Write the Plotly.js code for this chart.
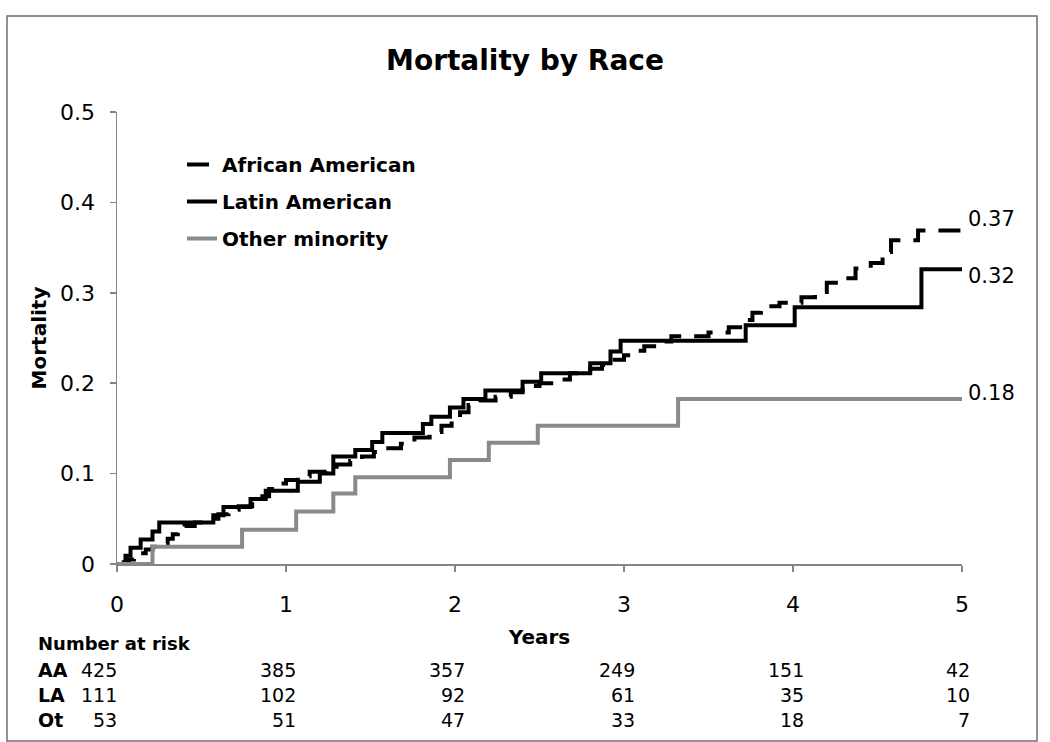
<!DOCTYPE html>
<html>
<head>
<meta charset="utf-8">
<script src="https://cdn.plot.ly/plotly-3.0.1.min.js"></script>
<style>
  html, body { margin: 0; padding: 0; background: #fff; }
  #chart { width: 1050px; height: 742px; }
</style>
</head>
<body>
<div id="chart"></div>
<script>
// ---- Data ----
const seriesNames = ["African American", "Latin American", "Other minority"];

const aaYears = [0, 0.04, 0.07, 0.10, 0.13, 0.17, 0.21, 0.26, 0.30, 0.33, 0.36, 0.40, 0.46, 0.52, 0.60, 0.66, 0.72, 0.80, 0.86, 0.90, 0.95, 1.00, 1.07, 1.14, 1.24, 1.30, 1.38, 1.45, 1.52, 1.58, 1.68, 1.76, 1.85, 1.92, 1.98, 2.03, 2.08, 2.15, 2.24, 2.33, 2.40, 2.50, 2.60, 2.68, 2.80, 2.87, 2.93, 3.00, 3.06, 3.12, 3.20, 3.28, 3.50, 3.62, 3.70, 3.76, 3.81, 3.92, 4.05, 4.13, 4.20, 4.30, 4.37, 4.46, 4.53, 4.58, 4.74, 5.00];
const aaMort  = [0, 0.002, 0.005, 0.009, 0.012, 0.016, 0.019, 0.023, 0.028, 0.033, 0.038, 0.042, 0.046, 0.050, 0.055, 0.060, 0.064, 0.069, 0.075, 0.083, 0.089, 0.093, 0.097, 0.102, 0.105, 0.110, 0.114, 0.119, 0.124, 0.128, 0.133, 0.140, 0.146, 0.153, 0.160, 0.168, 0.176, 0.181, 0.185, 0.190, 0.197, 0.200, 0.204, 0.211, 0.216, 0.220, 0.226, 0.231, 0.236, 0.241, 0.246, 0.252, 0.256, 0.262, 0.270, 0.278, 0.285, 0.289, 0.295, 0.301, 0.311, 0.316, 0.327, 0.333, 0.345, 0.358, 0.369, 0.369];

const laYears = [0, 0.05, 0.08, 0.14, 0.21, 0.25, 0.57, 0.63, 0.79, 0.88, 1.07, 1.20, 1.28, 1.41, 1.51, 1.57, 1.81, 1.86, 1.97, 2.05, 2.18, 2.40, 2.51, 2.80, 2.92, 2.98, 3.72, 4.01, 4.76, 5.00];
const laMort  = [0, 0.009, 0.018, 0.027, 0.036, 0.046, 0.054, 0.063, 0.072, 0.081, 0.091, 0.100, 0.119, 0.126, 0.135, 0.145, 0.155, 0.163, 0.173, 0.1825, 0.192, 0.2017, 0.211, 0.222, 0.235, 0.247, 0.264, 0.284, 0.326, 0.326];

const otYears = [0, 0.21, 0.74, 1.06, 1.28, 1.41, 1.97, 2.20, 2.49, 3.32, 5.00];
const otMort  = [0, 0.019, 0.038, 0.058, 0.078, 0.096, 0.115, 0.134, 0.153, 0.1825, 0.1825];

const endLabels = ["0.37", "0.32", "0.18"];
const endValues = [0.369, 0.326, 0.1825];

const riskYears = [0, 1, 2, 3, 4, 5];
const riskRowLabels = ["AA", "LA", "Ot"];
const riskAA = [425, 385, 357, 249, 151, 42];
const riskLA = [111, 102, 92, 61, 35, 10];
const riskOt = [53, 51, 47, 33, 18, 7];

const xTickVals = [0, 1, 2, 3, 4, 5];
const yTickVals = [0, 0.1, 0.2, 0.3, 0.4, 0.5];
const yTickText = ["0", "0.1", "0.2", "0.3", "0.4", "0.5"];

// ---- Styling ----
const FONT = "DejaVu Sans, Verdana, sans-serif";
const BOLD = "DejaVu Sans, Verdana, sans-serif";
const axisGray = "#858585";

const traces = [
  { x: aaYears, y: aaMort, name: seriesNames[0], legendgroup: "a",
    mode: "lines", line: { shape: "hv", color: "#000", width: 4, dash: "22px,13px" } },
  { x: laYears, y: laMort, name: seriesNames[1], legendgroup: "b",
    mode: "lines", line: { shape: "hv", color: "#000", width: 4 } },
  { x: otYears, y: otMort, name: seriesNames[2], legendgroup: "c",
    mode: "lines", line: { shape: "hv", color: "#8a8a8a", width: 4 } }
];

// plot area in pixels
const L = 117, R = 962, T = 112, B = 564, W = 1050, H = 742;
const px2paperX = p => (p - L) / (R - L);
const py2paperY = p => (B - p) / (B - T);

const annotations = [];
const endShift = [11, -7, 6];
endLabels.forEach((t, i) => {
  annotations.push({ x: 5, y: endValues[i], xref: "x", yref: "y", text: t,
    showarrow: false, xanchor: "left", yanchor: "middle", xshift: 4, yshift: endShift[i],
    font: { family: FONT, size: 21, color: "#000" } });
});

annotations.push({ x: px2paperX(36), y: py2paperY(643), xref: "paper", yref: "paper",
  text: "<b>Number at risk</b>", showarrow: false, xanchor: "left", yanchor: "middle",
  font: { family: BOLD, size: 18, color: "#000" } });

const riskRows = [riskAA, riskLA, riskOt];
const rowY = [670, 695, 720];
const colShift = [2, 12, 12, 13, 13, 10];
riskRows.forEach((row, r) => {
  annotations.push({ x: px2paperX(36), y: py2paperY(rowY[r]), xref: "paper", yref: "paper",
    text: "<b>" + riskRowLabels[r] + "</b>", showarrow: false, xanchor: "left", yanchor: "middle",
    font: { family: BOLD, size: 19, color: "#000" } });
  row.forEach((v, c) => {
    annotations.push({ x: riskYears[c], y: py2paperY(rowY[r]), xref: "x", yref: "paper",
      text: String(v), showarrow: false, xanchor: "right", yanchor: "middle", xshift: colShift[c],
      font: { family: FONT, size: 19, color: "#000" } });
  });
});

const layout = {
  width: W, height: H,
  margin: { l: L, r: W - R, t: T, b: H - B, pad: 0 },
  paper_bgcolor: "#fff", plot_bgcolor: "#fff",
  title: { text: "<b>Mortality by Race</b>", x: 0.5, xref: "container", yref: "container",
    y: 1 - 60 / H, yanchor: "middle", xanchor: "center",
    font: { family: BOLD, size: 28, color: "#000" } },
  xaxis: {
    range: [0, 5], tickvals: xTickVals, ticktext: xTickVals.map(String),
    showgrid: false, zeroline: false, showline: true, linecolor: axisGray, linewidth: 1.5,
    ticks: "outside", ticklen: 6, tickcolor: axisGray, tickwidth: 1.5,
    ticklabelstandoff: 14,
    tickfont: { family: FONT, size: 22, color: "#000" },
    title: { text: "<b>Years</b>", standoff: 14, font: { family: BOLD, size: 20, color: "#000" } },
    fixedrange: true
  },
  yaxis: {
    range: [0, 0.5], tickvals: yTickVals, ticktext: yTickText,
    showgrid: false, zeroline: false, showline: true, linecolor: axisGray, linewidth: 1.5,
    ticks: "outside", ticklen: 6, tickcolor: axisGray, tickwidth: 1.5,
    ticklabelstandoff: 10,
    tickfont: { family: FONT, size: 22, color: "#000" },
    title: { text: "<b>Mortality</b>", standoff: 8, font: { family: BOLD, size: 20, color: "#000" } },
    fixedrange: true
  },
  showlegend: true,
  legend: {
    x: px2paperX(182), y: py2paperY(145), xanchor: "left", yanchor: "top",
    bgcolor: "rgba(0,0,0,0)", borderwidth: 0,
    font: { family: BOLD, size: 20, color: "#000", weight: "bold" },
    traceorder: "grouped", tracegroupgap: 8
  },
  annotations: annotations,
  shapes: [
    { type: "rect", xref: "paper", yref: "paper",
      x0: px2paperX(7), x1: px2paperX(1037), y0: py2paperY(741), y1: py2paperY(16),
      line: { color: "#6e6e6e", width: 1.5 }, fillcolor: "rgba(0,0,0,0)", layer: "below" }
  ]
};

Plotly.newPlot("chart", traces, layout, { displayModeBar: false, staticPlot: true });
</script>
</body>
</html>
